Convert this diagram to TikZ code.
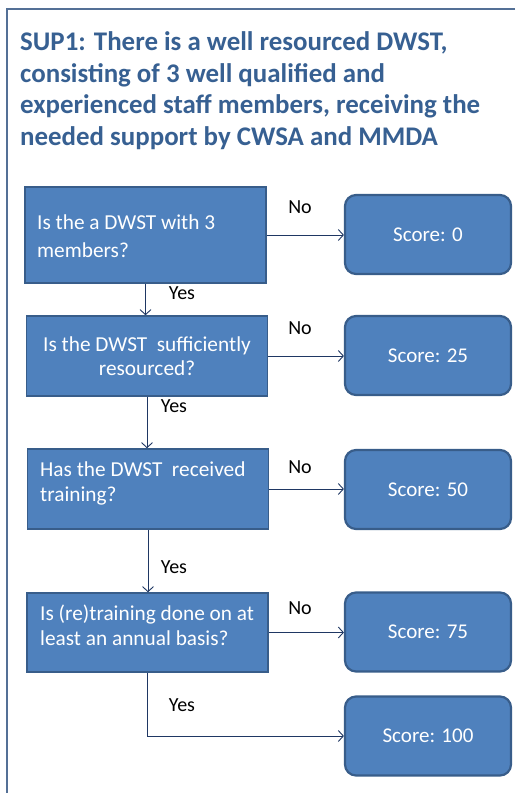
\documentclass[tikz,border=0pt]{standalone}
\usepackage{fontspec}
\setmainfont{Carlito}
\usetikzlibrary{arrows.meta}
\definecolor{titleblue}{RGB}{55,96,146}
\definecolor{boxfill}{RGB}{79,129,189}
\definecolor{boxline}{RGB}{56,93,138}
\definecolor{framecol}{RGB}{84,112,150}
\definecolor{arrowcol}{RGB}{31,55,99}
\begin{document}
\begin{tikzpicture}[x=1pt,y=-1pt,
  titleline/.style={anchor=base west,inner sep=0pt,text=titleblue,
    font=\fontsize{26.9}{32}\selectfont\bfseries},
  question/.style={draw=boxline,line width=1.6pt,fill=boxfill,
    minimum width=241pt,inner sep=0pt},
  qtext/.style={anchor=base west,inner sep=0pt,text=white,
    font=\fontsize{21.3}{26}\selectfont},
  scorebox/.style={draw=boxline,line width=2.2pt,fill=boxfill,rounded corners=11pt,
    minimum width=166pt,minimum height=79pt,inner sep=0pt,text=white,
    font=\fontsize{21}{26}\selectfont},
  answer/.style={inner sep=0pt,font=\fontsize{20}{24}\selectfont},
  flow/.style={draw=arrowcol,line width=0.9pt,-{Straight Barb[length=5pt,width=11pt]}}]
\useasboundingbox (0,0) rectangle (515,793);

% frame
\draw[framecol,line width=1.2pt] (515,9) -- (7,9) -- (7,793);

% heading
\node[titleline] (t1) at (20,50) {SUP1: There is a well resourced DWST,};
\node[titleline] (t2) at (20,82) {consisting of 3 well qualified and};
\node[titleline] (t3) at (20,113) {experienced staff members, receiving the};
\node[titleline] (t4) at (20,145) {needed support by CWSA and MMDA};

% question boxes
\node[question,minimum height=96pt] (q1) at (145.5,235) {};
\node[question,minimum height=80pt] (q2) at (147,356) {};
\node[question,minimum height=80pt] (q3) at (148,489) {};
\node[question,minimum height=79pt] (q4) at (147.5,632.5) {};

\node[qtext] (q1a) at (37,229) {Is the a DWST with 3};
\node[qtext] (q1b) at (37,257) {members?};
\node[qtext,anchor=base] (q2a) at (147,351) {Is the DWST\ \ sufficiently};
\node[qtext,anchor=base] (q2b) at (147,375) {resourced?};
\node[qtext] (q3a) at (40,476) {Has the DWST\ \ received};
\node[qtext] (q3b) at (40,501) {training?};
\node[qtext] (q4a) at (40,620) {Is (re)training done on at};
\node[qtext] (q4b) at (40,645) {least an annual basis?};

% score boxes
\node[scorebox] (s0) at (428,234.5) {Score: 0};
\node[scorebox] (s25) at (428,355.5) {Score: 25};
\node[scorebox] (s50) at (428,489.5) {Score: 50};
\node[scorebox] (s75) at (428,632) {Score: 75};
\node[scorebox] (s100) at (428,736) {Score: 100};

% "No" branches
\draw[flow] (q1.east) -- (q1.east -| s0.west);
\draw[flow] (q2.east) -- (q2.east -| s25.west);
\draw[flow] (q3.east) -- (q3.east -| s50.west);
\draw[flow] (q4.east) -- (q4.east -| s75.west);
\node[answer] (n1) at (300,207) {No};
\node[answer] (n2) at (300,328) {No};
\node[answer] (n3) at (300,467) {No};
\node[answer] (n4) at (300,608) {No};

% "Yes" branches
\draw[flow] (q1.south) -- (q1.south |- q2.north);
\draw[flow] (q2.south) -- (q2.south |- q3.north);
\draw[flow] (q3.south) -- (q3.south |- q4.north);
\draw[flow] (q4.south) |- (s100.west);
\node[answer] (y1) at (182,293) {Yes};
\node[answer] (y2) at (174,406) {Yes};
\node[answer] (y3) at (174,567) {Yes};
\node[answer] (y4) at (182,705) {Yes};
\end{tikzpicture}
\end{document}
